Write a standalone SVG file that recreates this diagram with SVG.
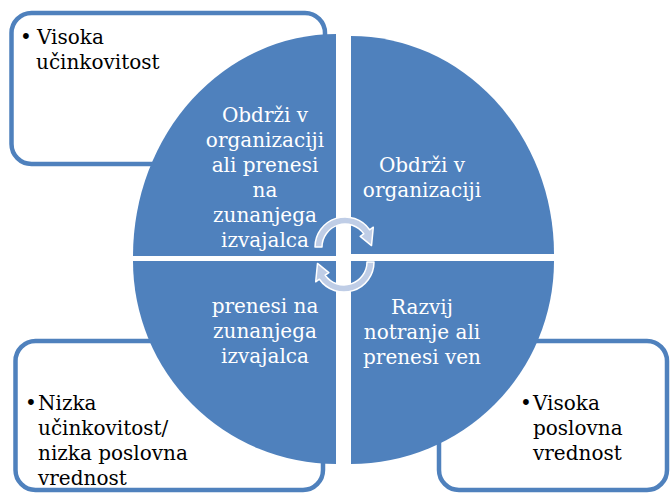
<svg xmlns="http://www.w3.org/2000/svg" width="671" height="494" viewBox="0 0 671 494">
<style>
.box{fill:#ffffff;stroke:#4f81bd;stroke-width:4.5}
.quad{fill:#4f81bd}
.qt{font-family:"DejaVu Serif","Liberation Serif",serif;font-size:20px;fill:#ffffff;text-anchor:middle}
.bt{font-family:"DejaVu Serif","Liberation Serif",serif;font-size:20px;fill:#000000}
.arr{fill:#bfcde6;stroke:#ffffff;stroke-width:1.5;stroke-linejoin:round}
</style>
<rect width="671" height="494" fill="#ffffff"/>
<g id="box-tl">
<rect class="box" x="11.5" y="13" width="313.5" height="151" rx="20"/>
<text class="bt" x="20" y="44">•</text>
<text class="bt" x="37" y="44">Visoka</text>
<text class="bt" x="36" y="69">učinkovitost</text>
</g>
<g id="box-bl">
<rect class="box" x="15.5" y="341" width="307.5" height="149" rx="20"/>
<text class="bt" x="25" y="410">•</text>
<text class="bt" x="38" y="410">Nizka</text>
<text class="bt" x="38" y="435">učinkovitost/</text>
<text class="bt" x="38" y="460">nizka poslovna</text>
<text class="bt" x="38" y="485">vrednost</text>
</g>
<g id="box-br">
<rect class="box" x="439" y="341" width="228" height="149" rx="20"/>
<text class="bt" x="520" y="410">•</text>
<text class="bt" x="533" y="410">Visoka</text>
<text class="bt" x="533" y="435">poslovna</text>
<text class="bt" x="533" y="460">vrednost</text>
</g>
<g id="quad-tl">
<path class="quad" d="M133,256 A203,222 0 0 1 336,34 L336,256 Z"/>
<text class="qt" x="265" y="122">Obdrži v</text>
<text class="qt" x="265" y="147">organizaciji</text>
<text class="qt" x="265" y="172">ali prenesi</text>
<text class="qt" x="265" y="197">na</text>
<text class="qt" x="265" y="222">zunanjega</text>
<text class="qt" x="265" y="247">izvajalca</text>
</g>
<g id="quad-tr">
<path class="quad" d="M351,36 A203,218 0 0 1 554,254 L351,254 Z"/>
<text class="qt" x="422" y="172">Obdrži v</text>
<text class="qt" x="422" y="197">organizaciji</text>
</g>
<g id="quad-bl">
<path class="quad" d="M336,464 A203,203 0 0 1 133,261 L336,261 Z"/>
<text class="qt" x="265" y="313">prenesi na</text>
<text class="qt" x="265" y="338">zunanjega</text>
<text class="qt" x="265" y="363">izvajalca</text>
</g>
<g id="quad-br">
<path class="quad" d="M554,261 A203,203 0 0 1 351,464 L351,261 Z"/>
<text class="qt" x="422" y="314">Razvij</text>
<text class="qt" x="422" y="339">notranje ali</text>
<text class="qt" x="422" y="364">prenesi ven</text>
</g>
<g id="connectors">
<path class="arr" d="M315,247 A30,30 0 0 1 369.6,229.8 L373.3,227.2 L371.5,245.6 L360.2,236.4 L363.8,233.8 A23,23 0 0 0 322,247 Z"/>
<path class="arr" d="M374,262 A30,30 0 0 1 319.4,279.2 L315.7,281.8 L317.5,263.4 L328.85,272.6 L325.2,275.2 A23,23 0 0 0 367,262 Z"/>
</g>
</svg>
